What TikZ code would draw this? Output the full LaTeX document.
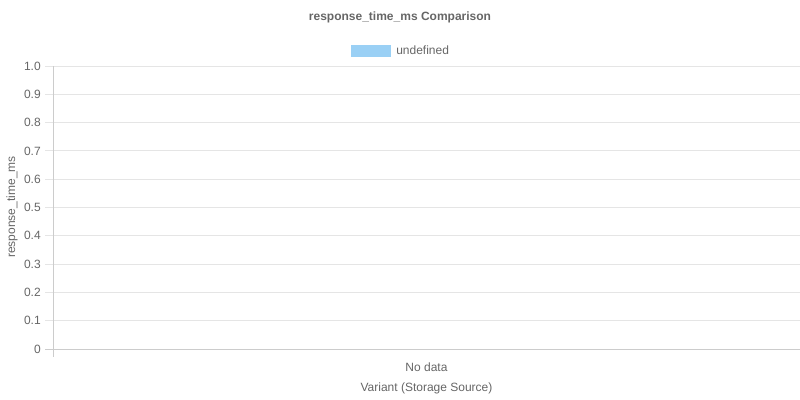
\documentclass[tikz,border=0pt]{standalone}
\usepackage{fontspec}
\setmainfont{Liberation Sans}
\definecolor{labelgray}{HTML}{666666}
\definecolor{gridgray}{HTML}{E5E5E5}
\definecolor{axisgray}{HTML}{CCCCCC}
\definecolor{barblue}{HTML}{9AD0F5}
\begin{document}
\begin{tikzpicture}[x=0.75pt, y=-0.75pt,
					tick_label/.style = {font=\fontsize{9}{10}\selectfont, text=labelgray, inner sep=0pt},
					grid_line/.style = {draw=gridgray, line width=0.75pt},
					axis_line/.style = {draw=axisgray, line width=0.75pt},
					title/.style = {font=\bfseries\fontsize{9}{10}\selectfont, text=labelgray, inner sep=0pt}
				]

				\useasboundingbox (0,0) rectangle (800,400);

				\def\plotleft{53}
				\def\plotright{800}
				\def\plottop{66}
				\def\plotbottom{349}

				% grid and y ticks
				\foreach \k/\yval in {1/0.1,2/0.2,3/0.3,4/0.4,5/0.5,6/0.6,7/0.7,8/0.8,9/0.9,10/1.0} {
					\pgfmathsetmacro{\ypos}{\plotbottom-\k*28.3}
					\draw[grid_line] (45,\ypos) -- (\plotright,\ypos);
					\node[tick_label, anchor=east] (tick\k) at (41,\ypos) {\yval};
				}
				\draw[axis_line] (45,\plotbottom) -- (\plotright,\plotbottom);
				\node[tick_label, anchor=east] (tick0) at (41,\plotbottom) {0};
				\draw[axis_line] (\plotleft,\plottop) -- (\plotleft,357);

				% titles and labels
				\node[title] (chart_title) at (400,17) {response\_time\_ms Comparison};
				\node[draw=barblue, fill=barblue, minimum width=29pt, minimum height=8.5pt, inner sep=0pt] (legend_box) at (370.5,50.5) {};
				\node[tick_label, anchor=west] (legend_text) at (396,50.5) {undefined};
				\node[tick_label] (no_data) at (426.5,367) {No data};
				\node[tick_label] (x_title) at (426.5,388) {Variant (Storage Source)};
				\node[tick_label, rotate=90] (y_title) at (12,207) {response\_time\_ms};
			\end{tikzpicture}
\end{document}
